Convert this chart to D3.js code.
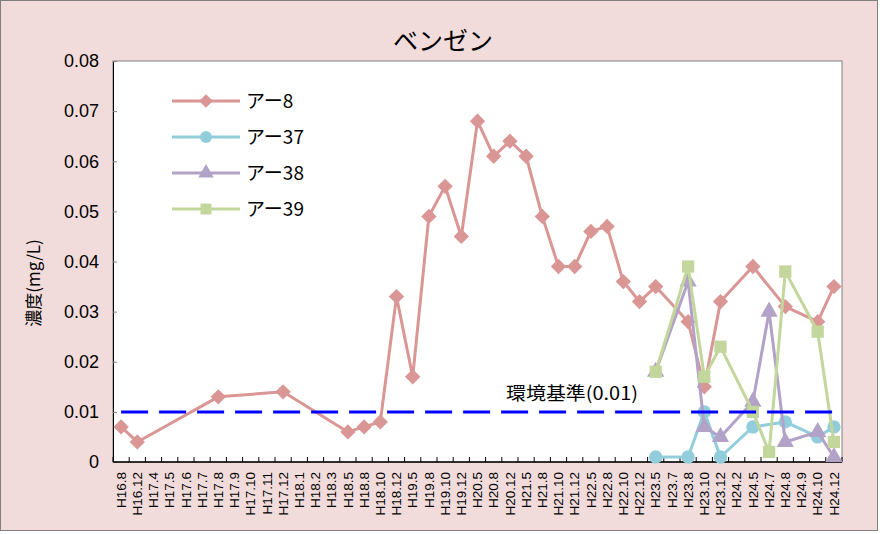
<!DOCTYPE html>
<html><head><meta charset="utf-8">
<script src="https://cdn.jsdelivr.net/npm/d3@7"></script>
<style>body{margin:0;background:#fff}svg{display:block}</style>
</head><body>
<script>
const categories = ["H16.8","H16.12","H17.4","H17.5","H17.6","H17.7","H17.8","H17.9","H17.10","H17.11","H17.12","H18.1","H18.2","H18.3","H18.5","H18.8","H18.10","H18.12","H19.5","H19.8","H19.10","H19.12","H20.5","H20.8","H20.12","H21.5","H21.8","H21.10","H21.12","H22.5","H22.8","H22.10","H22.12","H23.5","H23.7","H23.8","H23.10","H23.12","H24.2","H24.5","H24.7","H24.8","H24.9","H24.10","H24.12"];
const N = null;
const a8  = [0.007,0.004,N,N,N,N,0.013,N,N,N,0.014,N,N,N,0.006,0.007,0.008,0.033,0.017,0.049,0.055,0.045,0.068,0.061,0.064,0.061,0.049,0.039,0.039,0.046,0.047,0.036,0.032,0.035,N,0.028,0.015,0.032,N,0.039,N,0.031,N,0.028,0.035];
const a37 = [N,N,N,N,N,N,N,N,N,N,N,N,N,N,N,N,N,N,N,N,N,N,N,N,N,N,N,N,N,N,N,N,N,0.001,N,0.001,0.010,0.001,N,0.007,N,0.008,N,0.005,0.007];
const a38 = [N,N,N,N,N,N,N,N,N,N,N,N,N,N,N,N,N,N,N,N,N,N,N,N,N,N,N,N,N,N,N,N,N,0.018,N,0.036,0.007,0.005,N,0.012,0.030,0.004,N,0.006,0.001];
const a39 = [N,N,N,N,N,N,N,N,N,N,N,N,N,N,N,N,N,N,N,N,N,N,N,N,N,N,N,N,N,N,N,N,N,0.018,N,0.039,0.017,0.023,N,0.010,0.002,0.038,N,0.026,0.004];
const seriesNames = ["アー8","アー37","アー38","アー39"];
const yTicks = [0,0.01,0.02,0.03,0.04,0.05,0.06,0.07,0.08];
const standardValue = 0.01;
const standardLabel = "環境基準(0.01)";
const title = "ベンゼン";
const yTitle = "濃度(mg/L)";

const W = 880, H = 534;
const plot = {l:113, t:61, r:842, b:462};
const colors = ["#DA9694","#92CDDC","#B3A2C7","#C3D69B"];
const symbols = [d3.symbolDiamond2, d3.symbolCircle, d3.symbolTriangle, d3.symbolSquare];
const symSizes = [150, 140, 130, 150];

const svg = d3.select("body").append("svg").attr("width",W).attr("height",H);
svg.append("rect").attr("x",0.5).attr("y",0.5).attr("width",877).attr("height",530)
  .attr("fill","#F2DCDB").attr("stroke","#7f7f7f").attr("stroke-width",1);
svg.append("rect").attr("x",plot.l).attr("y",plot.t).attr("width",plot.r-plot.l).attr("height",plot.b-plot.t)
  .attr("fill","#fff").attr("stroke","#808080").attr("stroke-width",1);

const x = d3.scalePoint().domain(categories).range([plot.l, plot.r]).padding(0.5);
const y = d3.scaleLinear().domain([0,0.08]).range([plot.b, plot.t]);
const step = x.step();

// axes
const yAxis = d3.axisLeft(y).tickValues(yTicks).tickSize(-4).tickPadding(14)
  .tickFormat(d => d===0 ? "0" : d3.format(".2f")(d));
const gy = svg.append("g").attr("transform",`translate(${plot.l},0)`).call(yAxis);
gy.select(".domain").attr("stroke","#000");
gy.selectAll(".tick line").attr("stroke","#808080");
gy.selectAll("text").attr("font-family","Liberation Sans, Arial, sans-serif").attr("font-size",18).attr("fill","#000");

const gx = svg.append("g");
gx.append("line").attr("x1",plot.l).attr("x2",plot.r).attr("y1",plot.b).attr("y2",plot.b).attr("stroke","#000").attr("stroke-width",1.5);
gx.selectAll("line.tk").data(d3.range(categories.length+1)).join("line").attr("class","tk")
  .attr("x1",i=>x(categories[0]) - step/2 + i*step).attr("x2",i=>x(categories[0]) - step/2 + i*step)
  .attr("y1",plot.b).attr("y2",plot.b-5).attr("stroke","#000");
gx.selectAll("text").data(categories).join("text")
  .attr("transform",d=>`translate(${x(d)},${plot.b+10}) rotate(-90)`)
  .attr("text-anchor","end").attr("dy","0.35em")
  .attr("font-family","Liberation Sans, Arial, sans-serif").attr("font-size",13.5).text(d=>d);

// title
svg.append("text").attr("x",443).attr("y",50).attr("text-anchor","middle")
  .attr("font-family","Noto Sans CJK JP, sans-serif").attr("font-size",25).text(title);
svg.append("text").attr("transform","translate(34,283) rotate(-90)").attr("text-anchor","middle")
  .attr("dy","0.35em")
  .attr("font-family","Noto Sans CJK JP, sans-serif").attr("font-size",17).text(yTitle);

// series
const allSeries = [a8,a37,a38,a39];
allSeries.forEach((vals,si)=>{
  const pts = categories.map((c,i)=>({c,v:vals[i]})).filter(p=>p.v!==null);
  const g = svg.append("g");
  g.append("path").datum(pts).attr("fill","none").attr("stroke",colors[si]).attr("stroke-width",3)
    .attr("stroke-linejoin","round")
    .attr("d",d3.line().x(p=>x(p.c)).y(p=>y(p.v)));
  g.selectAll("path.m").data(pts).join("path").attr("class","m")
    .attr("transform",p=>`translate(${x(p.c)},${y(p.v)})`)
    .attr("d",d3.symbol(symbols[si], symSizes[si])).attr("fill",colors[si]);
});

// standard line
svg.append("line").attr("x1",x(categories[0])).attr("x2",x(categories[categories.length-1]))
  .attr("y1",y(standardValue)).attr("y2",y(standardValue))
  .attr("stroke","#0000FF").attr("stroke-width",3).attr("stroke-dasharray","27,11");
svg.append("text").attr("x",506).attr("y",y(standardValue)-12)
  .attr("textLength",132).attr("lengthAdjust","spacingAndGlyphs")
  .attr("font-family","Noto Sans CJK JP, sans-serif").attr("font-size",18).text(standardLabel);

// legend
const lg = svg.append("g");
seriesNames.forEach((n,i)=>{
  const yy = 101 + i*36;
  lg.append("line").attr("x1",172).attr("x2",240).attr("y1",yy).attr("y2",yy).attr("stroke",colors[i]).attr("stroke-width",3);
  lg.append("path").attr("transform",`translate(206,${yy})`).attr("d",d3.symbol(symbols[i], symSizes[i]*0.8)).attr("fill",colors[i]);
  lg.append("text").attr("x",246).attr("y",yy).attr("dy","0.35em")
    .attr("font-family","Noto Sans CJK JP, sans-serif").attr("font-size",19).text(n);
});
</script>
</body></html>
